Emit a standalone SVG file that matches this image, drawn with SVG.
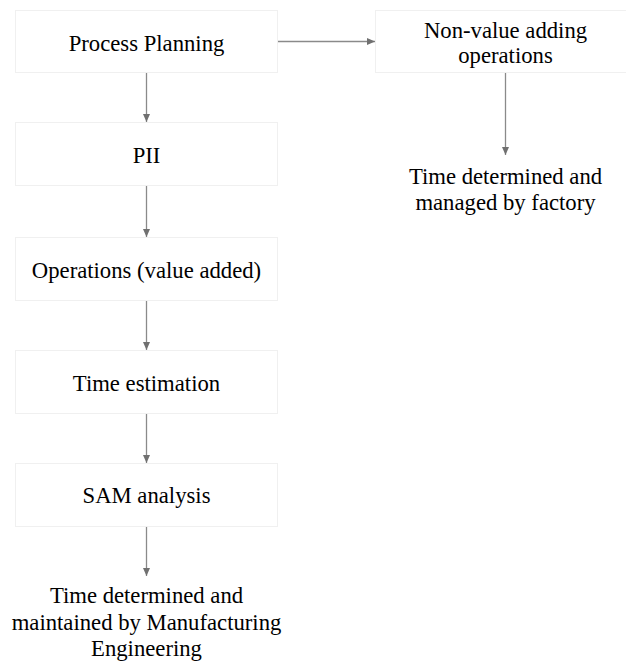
<svg xmlns="http://www.w3.org/2000/svg" width="626" height="662" viewBox="0 0 626 662">
<style>
.box{fill:#ffffff;stroke:#f0f0f0;stroke-width:1}
.t{font-family:"Liberation Serif","Times New Roman",serif;font-size:22.7px;fill:#000;text-anchor:middle}
.c{stroke:#8a8a8a;stroke-width:1.3;fill:none}
</style>
<defs>
<marker id="ah" viewBox="0 0 8 8" refX="8" refY="4" markerWidth="8" markerHeight="8" markerUnits="userSpaceOnUse" orient="auto">
<path d="M0,0.5 L8,4 L0,7.5 Z" fill="#707070"/>
</marker>
</defs>
<rect width="626" height="662" fill="#ffffff"/>
<g id="n1"><rect class="box" x="15.5" y="10.5" width="262" height="62"/><text class="t" x="146.5" y="51">Process Planning</text></g>
<g id="n2"><rect class="box" x="15.5" y="122.5" width="262" height="63"/><text class="t" x="146.5" y="163">PII</text></g>
<g id="n3"><rect class="box" x="15.5" y="237.5" width="262" height="63"/><text class="t" x="146.5" y="278">Operations (value added)</text></g>
<g id="n4"><rect class="box" x="15.5" y="350.5" width="262" height="63"/><text class="t" x="146.5" y="391">Time estimation</text></g>
<g id="n5"><rect class="box" x="15.5" y="463.5" width="262" height="63"/><text class="t" x="146.5" y="503">SAM analysis</text></g>
<g id="n6"><text class="t" x="146.5" y="603">Time determined and</text><text class="t" x="146.5" y="630">maintained by Manufacturing</text><text class="t" x="146.5" y="656">Engineering</text></g>
<g id="n7"><rect class="box" x="375.5" y="10.5" width="260" height="62"/><text class="t" x="505.5" y="38">Non-value adding</text><text class="t" x="505.5" y="63">operations</text></g>
<g id="n8"><text class="t" x="505.5" y="184">Time determined and</text><text class="t" x="505.5" y="210">managed by factory</text></g>
<g id="connectors">
<line class="c" x1="146.5" y1="73" x2="146.5" y2="122" marker-end="url(#ah)"/>
<line class="c" x1="146.5" y1="186" x2="146.5" y2="237" marker-end="url(#ah)"/>
<line class="c" x1="146.5" y1="301" x2="146.5" y2="350" marker-end="url(#ah)"/>
<line class="c" x1="146.5" y1="414" x2="146.5" y2="463" marker-end="url(#ah)"/>
<line class="c" x1="146.5" y1="527" x2="146.5" y2="576" marker-end="url(#ah)"/>
<line class="c" x1="278" y1="41.5" x2="375" y2="41.5" marker-end="url(#ah)"/>
<line class="c" x1="505.5" y1="73" x2="505.5" y2="155" marker-end="url(#ah)"/>
</g>
</svg>
